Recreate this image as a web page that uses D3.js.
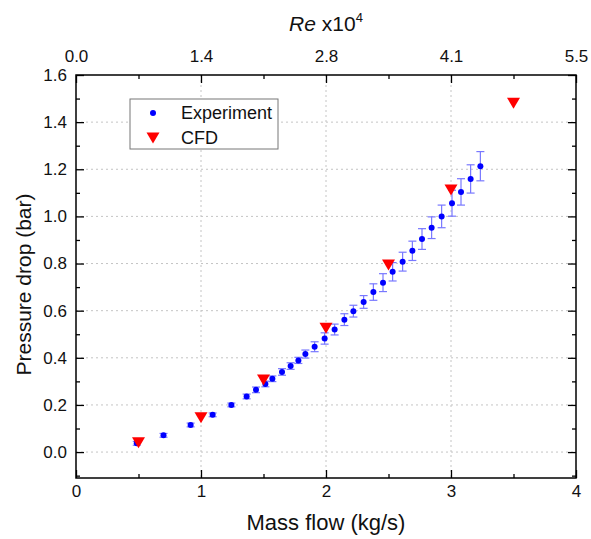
<!DOCTYPE html>
<html>
<head>
<meta charset="utf-8">
<script src="https://cdn.jsdelivr.net/npm/d3@7"></script>
<style>
  body { margin: 0; background: #fff; }
  svg { font-family: "Liberation Sans", Arial, sans-serif; }
</style>
</head>
<body>
<div id="container"></div>
<script>
// experiment points (mass flow kg/s, pressure drop bar, error +/-)
const expFlow = [0.486, 0.70, 0.917, 1.093, 1.243, 1.365, 1.44, 1.515, 1.571, 1.648,
  1.717, 1.779, 1.835, 1.909, 1.989, 2.069, 2.147, 2.219, 2.301, 2.379,
  2.456, 2.533, 2.613, 2.691, 2.768, 2.845, 2.925, 3.008, 3.08, 3.157, 3.235];
const expDrop = [0.037, 0.071, 0.115, 0.158, 0.2, 0.236, 0.264, 0.289, 0.311, 0.34,
  0.365, 0.389, 0.416, 0.447, 0.482, 0.52, 0.562, 0.598, 0.637, 0.679,
  0.719, 0.765, 0.808, 0.854, 0.904, 0.952, 1.0, 1.056, 1.104, 1.159, 1.213];
const expErr = [0.008, 0.008, 0.008, 0.008, 0.008, 0.01, 0.012, 0.012, 0.012, 0.014,
  0.014, 0.013, 0.017, 0.021, 0.024, 0.023, 0.025, 0.025, 0.027, 0.035,
  0.038, 0.039, 0.04, 0.041, 0.044, 0.046, 0.048, 0.055, 0.056, 0.06, 0.062];

// CFD results
const cfdFlow = [0.5, 1.0, 1.5, 2.0, 2.5, 3.0, 3.5];
const cfdDrop = [0.04, 0.146, 0.306, 0.525, 0.794, 1.112, 1.48];

// axis ticks
const xTicks = [0, 1, 2, 3, 4];
const xMinor = [0.5, 1.5, 2.5, 3.5];
const reLabels = ['0.0', '1.4', '2.8', '4.1', '5.5'];
const yTicks = [0, 0.2, 0.4, 0.6, 0.8, 1.0, 1.2, 1.4, 1.6];
const yMinor = [-0.1, 0.1, 0.3, 0.5, 0.7, 0.9, 1.1, 1.3, 1.5];

const W = 591, H = 539;
const mLeft = 76, mRight = 576, mTop = 75, mBottom = 478;

const svg = d3.select('#container').append('svg')
  .attr('width', W).attr('height', H);

const x = d3.scaleLinear().domain([0, 4]).range([mLeft, mRight]);
const y = d3.scaleLinear().domain([-0.11, 1.6]).range([mBottom, mTop]);

// grid
const grid = svg.append('g').attr('stroke', '#c4c4c4').attr('stroke-dasharray', '2,3').attr('stroke-width', 1);
grid.selectAll('.gy').data(yTicks.filter(d => d < 1.6)).enter().append('line')
  .attr('x1', mLeft).attr('x2', mRight)
  .attr('y1', d => y(d)).attr('y2', d => y(d));
grid.selectAll('.gx').data(xTicks.filter(d => d > 0 && d < 4)).enter().append('line')
  .attr('y1', mTop).attr('y2', mBottom)
  .attr('x1', d => x(d)).attr('x2', d => x(d));

const expData = expFlow.map((f, i) => ({ f: f, p: expDrop[i], e: expErr[i] }));
const cfdData = cfdFlow.map((f, i) => ({ f: f, p: cfdDrop[i] }));

// error bars
const eb = svg.append('g').attr('stroke', '#7878ff').attr('stroke-width', 1.2);
eb.selectAll('.v').data(expData).enter().append('line')
  .attr('x1', d => x(d.f)).attr('x2', d => x(d.f))
  .attr('y1', d => y(d.p - d.e)).attr('y2', d => y(d.p + d.e));
eb.selectAll('.t').data(expData).enter().append('line')
  .attr('x1', d => x(d.f) - 4).attr('x2', d => x(d.f) + 4)
  .attr('y1', d => y(d.p + d.e)).attr('y2', d => y(d.p + d.e));
eb.selectAll('.b').data(expData).enter().append('line')
  .attr('x1', d => x(d.f) - 4).attr('x2', d => x(d.f) + 4)
  .attr('y1', d => y(d.p - d.e)).attr('y2', d => y(d.p - d.e));

// experiment dots
svg.append('g').selectAll('circle').data(expData).enter().append('circle')
  .attr('cx', d => x(d.f)).attr('cy', d => y(d.p))
  .attr('r', 3).attr('fill', '#0000ff');

// CFD down triangles
const tri = 'M-6.5,-5.5L6.5,-5.5L0,5.5Z';
svg.append('g').selectAll('path').data(cfdData).enter().append('path')
  .attr('d', tri)
  .attr('transform', d => `translate(${x(d.f)},${y(d.p)})`)
  .attr('fill', '#ff0000');

// axes (ticks pointing inward)
const axisFont = 17;
svg.append('g').attr('transform', `translate(0,${mBottom})`)
  .call(d3.axisBottom(x).tickValues(xTicks).tickFormat(d3.format('d'))
    .tickSizeInner(-8).tickSizeOuter(0).tickPadding(7));
svg.append('g').attr('transform', `translate(0,${mBottom})`)
  .call(d3.axisBottom(x).tickValues(xMinor).tickFormat('').tickSizeInner(-4).tickSizeOuter(0));

svg.append('g').attr('transform', `translate(0,${mTop})`)
  .call(d3.axisTop(x).tickValues(xTicks).tickFormat((d, i) => reLabels[i])
    .tickSizeInner(-8).tickSizeOuter(0).tickPadding(13));
svg.append('g').attr('transform', `translate(0,${mTop})`)
  .call(d3.axisTop(x).tickValues(xMinor).tickFormat('').tickSizeInner(-4).tickSizeOuter(0));

svg.append('g').attr('transform', `translate(${mLeft},0)`)
  .call(d3.axisLeft(y).tickValues(yTicks).tickFormat(d3.format('.1f'))
    .tickSizeInner(-8).tickSizeOuter(0).tickPadding(9));
svg.append('g').attr('transform', `translate(${mLeft},0)`)
  .call(d3.axisLeft(y).tickValues(yMinor).tickFormat('').tickSizeInner(-4).tickSizeOuter(0));

svg.append('g').attr('transform', `translate(${mRight},0)`)
  .call(d3.axisRight(y).tickValues(yTicks).tickFormat('').tickSizeInner(-8).tickSizeOuter(0));
svg.append('g').attr('transform', `translate(${mRight},0)`)
  .call(d3.axisRight(y).tickValues(yMinor).tickFormat('').tickSizeInner(-4).tickSizeOuter(0));

svg.selectAll('.domain').remove();
svg.selectAll('.tick line').attr('stroke', '#000').attr('stroke-width', 1.3);
svg.selectAll('.tick text').attr('font-size', axisFont).attr('fill', '#111')
  .attr('font-family', '"Liberation Sans", Arial, sans-serif');

// frame
svg.append('rect')
  .attr('x', mLeft).attr('y', mTop)
  .attr('width', mRight - mLeft).attr('height', mBottom - mTop)
  .attr('fill', 'none').attr('stroke', '#000').attr('stroke-width', 1.5);

// titles
svg.append('text')
  .attr('x', (mLeft + mRight) / 2).attr('y', 530)
  .attr('text-anchor', 'middle').attr('font-size', 22).attr('fill', '#111')
  .text('Mass flow (kg/s)');

svg.append('text')
  .attr('transform', `translate(31,${(mTop + mBottom) / 2 + 8}) rotate(-90)`)
  .attr('text-anchor', 'middle').attr('font-size', 21).attr('fill', '#111')
  .text('Pressure drop (bar)');

const reTitle = svg.append('text')
  .attr('x', 326).attr('y', 31)
  .attr('text-anchor', 'middle').attr('font-size', 21).attr('fill', '#111');
reTitle.append('tspan').attr('font-style', 'italic').text('Re');
reTitle.append('tspan').text(' x10');
reTitle.append('tspan').attr('font-size', 13).attr('dy', -9).text('4');

// legend
const lg = svg.append('g');
lg.append('rect')
  .attr('x', 130).attr('y', 99).attr('width', 148).attr('height', 50)
  .attr('fill', '#fff').attr('stroke', '#777').attr('stroke-width', 1);
lg.append('circle').attr('cx', 153).attr('cy', 113).attr('r', 3).attr('fill', '#0000ff');
lg.append('path').attr('d', tri).attr('transform', 'translate(153,138)').attr('fill', '#ff0000');
lg.append('text').attr('x', 181).attr('y', 119).attr('font-size', 18).attr('fill', '#111').text('Experiment');
lg.append('text').attr('x', 181).attr('y', 144).attr('font-size', 18).attr('fill', '#111').text('CFD');
</script>
</body>
</html>
